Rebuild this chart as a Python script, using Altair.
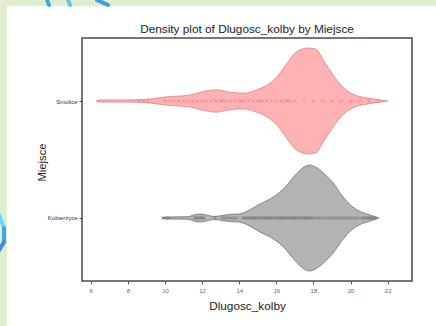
import altair as alt
import pandas as pd

# Density outline per site: positions along Dlugosc_kolby and relative density (peak = 1)
smolice_x = [6.31, 6.6, 8.0, 8.47, 9.2, 9.99, 11.35, 12.1, 12.77, 13.4, 14.0, 14.34,
             14.85, 15.5, 15.92, 16.44, 16.97, 17.4, 17.65, 18.12, 18.54, 19.06,
             19.59, 20.11, 20.9, 21.42, 22.0]
smolice_d = [0.0, 0.02, 0.02, 0.023, 0.038, 0.075, 0.113, 0.18, 0.21, 0.17, 0.15, 0.15,
             0.2, 0.3, 0.415, 0.64, 0.89, 0.98, 1.0, 0.98, 0.77, 0.49,
             0.26, 0.13, 0.057, 0.028, 0.0]

kobierzyce_x = [9.83, 10.15, 11.2, 11.56, 11.88, 12.24, 12.66, 13.08, 13.45, 13.97,
                14.34, 15.02, 15.92, 16.44, 16.97, 17.49, 17.8, 18.12, 18.54, 19.06,
                19.59, 20.11, 20.64, 21.06, 21.53]
kobierzyce_d = [0.0, 0.019, 0.023, 0.057, 0.075, 0.057, 0.028, 0.047, 0.066, 0.075,
                0.113, 0.245, 0.415, 0.566, 0.79, 0.96, 1.0, 0.96, 0.85, 0.66,
                0.4, 0.21, 0.104, 0.057, 0.0]

# Individual observations drawn along the centre line
smolice_pts = [6.4, 8.6, 8.85, 9.1, 10.0, 10.25, 10.5, 10.75, 11.0, 11.25, 11.5, 11.75,
               12.0, 12.25, 12.5, 12.75, 13.0, 13.1, 13.25, 13.5, 13.75, 14.0, 14.1,
               14.25, 14.5, 14.75, 15.0, 15.1, 15.25, 15.5, 15.75, 16.0, 16.25, 16.5,
               16.6, 16.75, 17.0, 17.5, 18.0, 18.5, 19.0, 19.5, 20.0, 20.5, 21.0, 21.5]
kobierzyce_pts = [9.9, 10.05, 10.2,
                  11.6, 11.7, 11.8, 11.9, 12.0, 12.1,
                  12.7,
                  13.1, 13.25, 13.4, 13.55, 13.7, 13.85,
                  14.2, 14.3, 14.4, 14.5, 14.6, 14.7, 14.8, 14.9, 15.0, 15.1, 15.2,
                  15.3, 15.4, 15.5, 15.6, 15.7, 15.8, 15.9, 16.0, 16.1, 16.2, 16.3,
                  16.4, 16.5, 16.6, 16.7, 16.8, 16.9, 17.0, 17.1, 17.2, 17.3, 17.4,
                  17.5, 17.6, 17.7, 17.8, 17.9, 18.0,
                  18.15, 18.3, 18.45, 18.6, 18.75, 18.9, 19.05, 19.2, 19.35, 19.5,
                  19.65, 19.8, 19.95, 20.1, 20.25, 20.4,
                  20.6, 20.7, 20.8, 20.9, 21.0, 21.1, 21.2, 21.3]

sites = ["Smolice", "Kobierzyce"]
centre = {"Smolice": 1, "Kobierzyce": 0}
x_ticks = [6, 8, 10, 12, 14, 16, 18, 20, 22]
title_text = "Density plot of Dlugosc_kolby by Miejsce"

dens = pd.DataFrame({
    "Miejsce": ["Smolice"] * len(smolice_x) + ["Kobierzyce"] * len(kobierzyce_x),
    "Dlugosc_kolby": smolice_x + kobierzyce_x,
    "density": smolice_d + kobierzyce_d,
})
dens["pos"] = dens["Miejsce"].map(centre)

pts = pd.DataFrame({
    "Miejsce": ["Smolice"] * len(smolice_pts) + ["Kobierzyce"] * len(kobierzyce_pts),
    "Dlugosc_kolby": smolice_pts + kobierzyce_pts,
})
pts["pos"] = pts["Miejsce"].map(centre)

FONT = "Liberation Sans"
W, H = 330, 243
one = pd.DataFrame({"a": [0]})

xscale = alt.Scale(domain=[5.528, 23.31], nice=False, zero=False)
yscale = alt.Scale(domain=[-0.5385, 1.5385], nice=False, zero=False)

x_axis = alt.Axis(values=x_ticks, title="Dlugosc_kolby", grid=False, domain=False, zindex=2,
                  tickColor="#555555", tickSize=3, labelFontSize=6, labelColor="#666666",
                  labelPadding=3, labelFont=FONT, titleFont=FONT, titleFontSize=11.8,
                  titleFontWeight="normal", titleColor="#222222",
                  titleBaseline="middle", titleY=24)
y_axis = alt.Axis(values=[0, 1], title="Miejsce", grid=False, domain=False, zindex=2,
                  labelExpr="datum.value == 1 ? 'Smolice' : 'Kobierzyce'",
                  tickColor="#555555", tickSize=3, labelFontSize=6, labelColor="#333333",
                  labelPadding=2, labelFont=FONT, titleFont=FONT, titleFontSize=11.2,
                  titleFontWeight="normal", titleColor="#222222",
                  titleX=-40, titleY=124, titleBaseline="middle")

# white slide panel behind the plot
panel = alt.Chart(one).mark_rect(color="white").encode(
    x=alt.value(-75), x2=alt.value(W + 24), y=alt.value(-32), y2=alt.value(H + 45))


def stroke_piece(x1, y1, x2, y2, colour):
    """A short decorative slide stroke in the page margin."""
    return alt.Chart(one).mark_rule(color=colour, strokeWidth=4, strokeCap="round").encode(
        x=alt.value(x1), y=alt.value(y1), x2=alt.value(x2), y2=alt.value(y2))


deco = [
    stroke_piece(-35, -38, -33, -33, "#3ea6e6"),
    stroke_piece(-14, -38, -12, -33, "#62c4ee"),
    stroke_piece(15, -38, 26, -33, "#3a9fe0"),
    stroke_piece(-84, 174, -78, 190, "#6fd6f0"),
    stroke_piece(-78, 190, -78, 204, "#3ea6e6"),
    stroke_piece(-78, 204, -84, 214, "#3a8fe0"),
]

violins = alt.Chart(dens).transform_calculate(
    hi="datum.pos + 0.453 * datum.density",
    lo="datum.pos - 0.453 * datum.density",
).mark_area(interpolate="monotone", strokeWidth=0.8).encode(
    x=alt.X("Dlugosc_kolby:Q", scale=xscale, axis=x_axis),
    y=alt.Y("hi:Q", scale=yscale, axis=y_axis),
    y2="lo:Q",
    fill=alt.Fill("Miejsce:N", scale=alt.Scale(domain=sites, range=["#ffb2b2", "#b3b3b3"]),
                  legend=None),
    stroke=alt.Stroke("Miejsce:N", scale=alt.Scale(domain=sites, range=["#e08088", "#707070"]),
                      legend=None),
)

points = alt.Chart(pts).mark_point(
    shape="M-1,-1L1,1M-1,1L1,-1", filled=False, size=9, strokeWidth=0.8, opacity=0.85
).encode(
    x=alt.X("Dlugosc_kolby:Q", scale=xscale),
    y=alt.Y("pos:Q", scale=yscale),
    stroke=alt.Stroke("Miejsce:N", scale=alt.Scale(domain=sites, range=["#c8505c", "#111111"]),
                      legend=None),
)

frame = alt.Chart(one).mark_rect(
    fill=None, stroke="#4a4a4a", strokeWidth=1.5).encode(
    x=alt.value(0), x2=alt.value(W), y=alt.value(0), y2=alt.value(H))

# plot title, centred over the frame
title = alt.Chart(pd.DataFrame({"t": [title_text]})).mark_text(
    font=FONT, fontSize=11.8, color="#222222", align="center", baseline="middle"
).encode(x=alt.value(W / 2), y=alt.value(-9), text="t:N")

chart = alt.layer(panel, *deco, violins, points, frame, title).properties(
    width=W, height=H,
    padding={"left": 82, "top": 38, "right": 24, "bottom": 45},
    autosize=alt.AutoSizeParams(type="none"),
    background="#dfeecf",
).configure_view(stroke=None)

chart.save("out.html", embed_options={"renderer": "svg", "actions": False})
